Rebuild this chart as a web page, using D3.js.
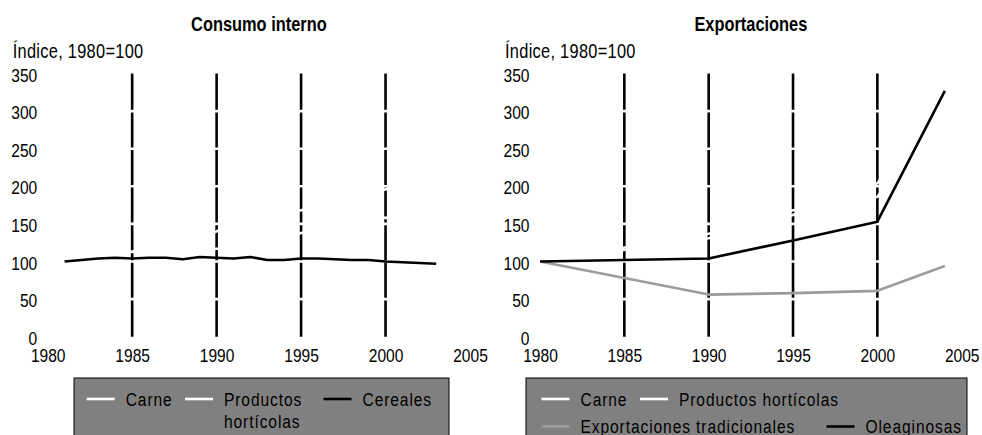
<!DOCTYPE html>
<html>
<head>
<meta charset="utf-8">
<script src="https://cdn.jsdelivr.net/npm/d3@7/dist/d3.min.js"></script>
<style>
  html, body { margin: 0; padding: 0; background: #fff; }
  svg { display: block; }
  text { font-family: "Liberation Sans", Arial, sans-serif; fill: #000; }
</style>
</head>
<body>
<svg id="chart" width="982" height="435"></svg>
<script>
// ---------- DATA ----------
const xTicks = [1980, 1985, 1990, 1995, 2000, 2005];
const yTicks = [0, 50, 100, 150, 200, 250, 300, 350];
const gridYears = [1985, 1990, 1995, 2000];
const gridValues = [50, 100, 150, 200, 250, 300];

const panelTitles = ["Consumo interno", "Exportaciones"];
const yAxisTitle = "Índice, 1980=100";

// Consumo interno (annual)
const yearsInterno = [1981,1982,1983,1984,1985,1986,1987,1988,1989,1990,1991,1992,1993,1994,1995,1996,1997,1998,1999,2000,2001,2002,2003];
const carneInterno = [104,106,110,112,113,112,113,114,114,117,118,120,126,131,138,142,148,158,160,158,160,166,171];
const horticolasInterno = [104,107,110,112,113,118,123,126,130,140,152,158,163,166,168,178,186,187,188,196,198,200,202];
const cerealesInterno = [100,102,104,105,104,105,105,103,106,105,104,106,102,102,104,104,103,102,102,100,99,98,97];

// Exportaciones
const yearsExport = [1980, 1990, 1995, 2000, 2004];
const carneExport = [100, 131, 162, 186, 300];
const horticolasExport = [100, 137, 168, 204, 325];
const tradicionalesExport = [100, 56, 58, 61, 94];
const oleaginosasExport = [100, 104, 128, 153, 327];

// ---------- DRAWING ----------
const svg = d3.select("#chart");
const COL = { white: "#ffffff", black: "#000000", gray: "#9c9c9c" };
const NARROW = 0.82; // horizontal condensing of the sans font

const yScale = d3.scaleLinear().domain([0, 350]).range([336.7, 73.5]);

function narrowText(parent, x, y, size, str, opts = {}) {
  const g = parent.append("g").attr("transform", `translate(${x},${y}) scale(${NARROW},1)`);
  const t = g.append("text").attr("x", 0).attr("y", 0)
    .attr("dominant-baseline", "central").attr("font-size", size)
    .attr("text-anchor", opts.anchor || "start");
  if (opts.bold) t.attr("font-weight", "bold");
  if (opts.spacing) t.attr("letter-spacing", opts.spacing);
  const lines = Array.isArray(str) ? str : [str];
  lines.forEach((ln, i) => {
    t.append("tspan").attr("x", 0).attr("dy", i === 0 ? 0 : (opts.lineGap || 22)).text(ln);
  });
  return t;
}

function drawPanel(x0, x1, title, series) {
  const x = d3.scaleLinear().domain([1980, 2005]).range([x0, x1]);
  const g = svg.append("g");

  narrowText(g, (x0 + x1) / 2, 23, 20, title, { anchor: "middle", bold: true });
  narrowText(g, x0 - 35, 50, 20, yAxisTitle, { spacing: 0.35 });

  // vertical black gridlines
  g.selectAll(".vg").data(gridYears).enter().append("line")
    .attr("x1", d => x(d)).attr("x2", d => x(d))
    .attr("y1", yScale(0)).attr("y2", yScale(350))
    .attr("stroke", COL.black).attr("stroke-width", 2.6);

  // horizontal white gridlines
  g.selectAll(".hg").data(gridValues).enter().append("line")
    .attr("x1", x(1980)).attr("x2", x(2005))
    .attr("y1", d => yScale(d)).attr("y2", d => yScale(d))
    .attr("stroke", COL.white).attr("stroke-width", 2.6);

  // axes (labels only)
  const xAxis = d3.axisBottom(x).tickValues(xTicks).tickFormat(d3.format("d")).tickSize(0).tickPadding(0);
  const gx = g.append("g").attr("transform", `translate(0,${yScale(0)})`).call(xAxis);
  gx.select(".domain").remove();
  gx.selectAll("text").attr("font-size", 19).attr("dy", null)
    .attr("y", 0).attr("dominant-baseline", "central")
    .attr("transform", `translate(0,19) scale(${NARROW},1)`)
    .style("font-family", "'Liberation Sans', Arial, sans-serif").attr("fill", "#000");

  const yAxis = d3.axisLeft(yScale).tickValues(yTicks).tickSize(0).tickPadding(0);
  const gy = g.append("g").attr("transform", `translate(${x0 - 10.5},0)`).call(yAxis);
  gy.select(".domain").remove();
  gy.selectAll("text").attr("font-size", 19).attr("dy", null).attr("x", 0)
    .attr("dominant-baseline", "central")
    .attr("transform", `translate(0,1) scale(${NARROW},1)`)
    .style("font-family", "'Liberation Sans', Arial, sans-serif").attr("fill", "#000");

  // series lines
  series.forEach(s => {
    const pts = s.years.map((yr, i) => [yr, s.values[i]]);
    g.append("path").datum(pts)
      .attr("d", d3.line().x(d => x(d[0])).y(d => yScale(d[1])))
      .attr("fill", "none").attr("stroke", s.color).attr("stroke-width", 2.6)
      .attr("stroke-linejoin", "round");
  });
  return x;
}

drawPanel(47.7, 470, panelTitles[0], [
  { years: yearsInterno, values: carneInterno, color: COL.white },
  { years: yearsInterno, values: horticolasInterno, color: COL.white },
  { years: yearsInterno, values: cerealesInterno, color: COL.black }
]);

drawPanel(540, 961.7, panelTitles[1], [
  { years: yearsExport, values: carneExport, color: COL.white },
  { years: yearsExport, values: horticolasExport, color: COL.white },
  { years: yearsExport, values: tradicionalesExport, color: COL.gray },
  { years: yearsExport, values: oleaginosasExport, color: COL.black }
]);

// ---------- LEGENDS ----------
function legendBox(x0, x1, items) {
  const g = svg.append("g");
  g.append("rect").attr("x", x0).attr("y", 378).attr("width", x1 - x0).attr("height", 70)
    .attr("fill", "#808080").attr("stroke", "#000").attr("stroke-width", 1);
  items.forEach(it => {
    g.append("line").attr("x1", it.lx).attr("x2", it.lx + 28)
      .attr("y1", it.y).attr("y2", it.y)
      .attr("stroke", it.color).attr("stroke-width", 2.6);
    narrowText(g, it.lx + 39, it.y, 19, it.lines, { spacing: 1.1, lineGap: 22.5 });
  });
}

legendBox(74, 449, [
  { lx: 86.7, y: 399, color: COL.white, lines: ["Carne"] },
  { lx: 185, y: 399, color: COL.white, lines: ["Productos", "hortícolas"] },
  { lx: 323.5, y: 399, color: COL.black, lines: ["Cereales"] }
]);

legendBox(526, 967, [
  { lx: 541.5, y: 399, color: COL.white, lines: ["Carne"] },
  { lx: 640, y: 399, color: COL.white, lines: ["Productos hortícolas"] },
  { lx: 541.5, y: 426.5, color: COL.gray, lines: ["Exportaciones tradicionales"] },
  { lx: 826.5, y: 426.5, color: COL.black, lines: ["Oleaginosas"] }
]);
</script>
</body>
</html>
